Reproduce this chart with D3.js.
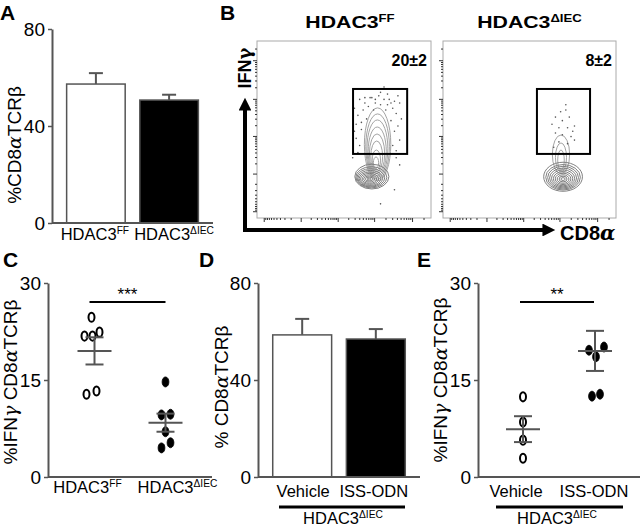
<!DOCTYPE html>
<html><head><meta charset="utf-8">
<script src="https://cdn.jsdelivr.net/npm/d3@7"></script>
<style>body{margin:0;background:#fff}svg{display:block}text{font-family:"Liberation Sans",Arial,sans-serif}</style>
</head><body>
<svg id="c" width="640" height="528"></svg>
<script>
// ---------------- DATA ----------------
// Panel A: %CD8aTCRb bars
const aGroups = ["FF", "dIEC"];
const aMeans = [57.3, 50.7];
const aErr = [4.5, 2.2];
// Panel D: bars
const dGroups = ["Vehicle", "ISS-ODN"];
const dMeans = [58.6, 56.9];
const dErr = [6.6, 4.1];
// Panel C: dot plot
const cGroups = ["FF", "dIEC"];
const cFF = [24.7, 21.8, 21.8, 22.4, 12.8, 13.3];
const cFFjit = [-3, -10, -2, 5, -8, 2];
const cIEC = [14.7, 9.6, 9.7, 7.0, 4.5, 5.3];
const cIECjit = [0, -4, 5, 0, -4, 5];
const cMean = [19.5, 8.4];
const cSem = [2.1, 1.4];
// Panel E: dot plot
const eGroups = ["Vehicle", "ISS-ODN"];
const eVeh = [12.4, 8.5, 5.7, 2.9];
const eVehJit = [0, 0, 0, 0];
const eISS = [19.6, 18.6, 20.1, 12.5, 12.8];
const eISSjit = [-6, 1, 9, -3, 5];
const eMean = [7.4, 19.5];
const eSem = [2.0, 3.1];
// Panel B: flow plots (axis units 0-100)
const flowTitles = ["FF", "dIEC"];
const flowPct = ["20±2", "8±2"];
const gates = [[55.2, 86.3, 36.2, 72.9], [54.3, 85.0, 36.2, 72.9]]; // x0,x1,y0,y1
// blob rings: [cx, cy, rx, ry]
const blob1 = [[64.5,22,1.2,0.5],[64.5,22,2.2,1.1],[64.5,22,3.2,1.7],[64.6,22,4.2,2.4],[64.7,22.1,5.2,3.1],[64.9,22.2,6.2,3.8],[65.1,22.4,7.1,4.5],[65.4,22.7,8.0,5.2],[65.7,23.0,8.9,6.0],[66.0,23.4,9.8,7.0]];
// tail rings: [cx, bottom, top, rx]
const tail1 = [[69.3,21,62.2,7.6],[69.3,22,58.8,6.8],[69.2,23,55.4,6.0],[69.1,24,51.4,5.2],[69.0,25,47.5,4.4],[68.8,26,43.5,3.4],[68.6,27,38.4,2.4],[68.4,28,34.5,1.5]];
const blob2 = [[69.4,22,1.2,0.8],[69.4,22,2.3,1.6],[69.4,22,3.4,2.4],[69.4,22.1,4.5,3.2],[69.4,22.2,5.6,4.0],[69.4,22.4,6.7,4.8],[69.4,22.6,7.8,5.6],[69.4,22.8,8.9,6.4],[69.4,23.0,10.0,7.2],[69.4,23.3,11.2,8.2]];
const tail2 = [[68.2,25,46.9,5.0],[68.2,26,42.4,3.2],[68.2,27,38.4,1.9]];
const dots1x = [59,62,66,70,73,76,79,68,71,75,64,61,78,74,67,58,80,63,77,57,81,60,79,57,82,59,78,58,80,65,71,75,62,81,56,73,82,68,77,60,83,56,80,82,55,71,79];
const dots1y = [67,68,68,69,67,67,66,65,64,64,63,61,62,61,61,58,59,56,55,53,52,50,49,45,44,41,41,37,38,68,71,70,65,69,62,74,65,67,65,54,56,49,34,30,34,8,16];
const dots2x = [68,71,65,69,73,63,67,72,76,65,69,74,67,72,76,64,71,75];
const dots2y = [60,61,57,55,57,53,51,51,52,48,47,46,43,42,44,40,64,49];
// flow axis ticks (channel values, biexponential-like)
const flowTicksMajor = [-1000, 0, 1000, 10000, 100000];
const flowTicksMinor = [-900,-800,-700,-600,-500,-400,-300,-200,-100,100,200,300,400,500,600,700,800,900,2000,3000,4000,5000,6000,7000,8000,9000,20000,30000,40000,50000,60000,70000,80000,90000,200000];
// tick labels
const barTicks = [0, 40, 80];
const dotTicks = [0, 15, 30];

// ---------------- DRAW ----------------
const svg = d3.select("#c");
const axisCol = "#555";

function letter(t, x, y) {
  svg.append("text").attr("x", x).attr("y", y).text(t)
    .attr("font-size", 21).attr("font-weight", "bold");
}
function hdacLabel(g, x, y, sup, fs, anchor, bold, sx) {
  const t = g.append("text").attr("font-size", fs)
    .attr("text-anchor", anchor || "middle").attr("font-weight", bold ? "bold" : null);
  if (sx) t.attr("transform", `translate(${x},${y}) scale(${sx},1)`);
  else t.attr("x", x).attr("y", y);
  t.append("tspan").text("HDAC3");
  t.append("tspan").text(sup).attr("font-size", fs * 0.62).attr("dy", -fs * 0.38);
  return t;
}
function supFor(g) { return g === "FF" ? "FF" : "ΔIEC"; }

function yAxis(g, y, x0, ticks) {
  g.append("g").attr("transform", `translate(${x0},0)`)
    .call(d3.axisLeft(y).tickValues(ticks).tickSize(4).tickSizeOuter(0).tickPadding(3))
    .call(a => {
      a.select(".domain").attr("stroke", axisCol).attr("stroke-width", 2);
      a.selectAll(".tick line").attr("stroke", axisCol).attr("stroke-width", 1.5);
      a.selectAll(".tick text").attr("font-size", 19).attr("fill", "#000")
        .attr("font-family", "Liberation Sans, Arial, sans-serif");
    });
}
function xAxisLine(g, x0, x1, yb) {
  g.append("line").attr("x1", x0).attr("x2", x1).attr("y1", yb).attr("y2", yb)
    .attr("stroke", axisCol).attr("stroke-width", 2);
}
function yTitle(g, cx, cy, parts) {
  const t = g.append("text").attr("transform", `translate(${cx},${cy}) rotate(-90)`)
    .attr("text-anchor", "middle").attr("font-size", 19);
  parts.forEach(p => {
    const s = t.append("tspan").text(p[0]);
    if (p[1]) s.attr("font-family", "DejaVu Serif").attr("font-style", "italic");
  });
}

// ---- Bar panel ----
function barPanel(opts) {
  const g = svg.append("g");
  const y = d3.scaleLinear().domain([0, 80]).range([opts.yb, opts.yt]);
  const x = d3.scaleBand().domain(opts.groups).range([opts.x0, opts.x1]).paddingInner(0.2).paddingOuter(0.2);
  opts.groups.forEach((k, i) => {
    const cx = x(k) + x.bandwidth() / 2;
    g.append("line").attr("x1", cx).attr("x2", cx).attr("y1", y(opts.means[i])).attr("y2", y(opts.means[i] + opts.err[i]))
      .attr("stroke", axisCol).attr("stroke-width", 2);
    g.append("line").attr("x1", cx - 7).attr("x2", cx + 7).attr("y1", y(opts.means[i] + opts.err[i])).attr("y2", y(opts.means[i] + opts.err[i]))
      .attr("stroke", axisCol).attr("stroke-width", 2);
  });
  g.selectAll("rect.bar").data(opts.groups).join("rect")
    .attr("x", k => x(k)).attr("width", x.bandwidth())
    .attr("y", (k, i) => y(opts.means[i])).attr("height", (k, i) => y(0) - y(opts.means[i]))
    .attr("fill", (k, i) => i === 0 ? "#fff" : "#000")
    .attr("stroke", axisCol).attr("stroke-width", 1.5);
  xAxisLine(g, opts.x0, opts.x1, opts.yb);
  yAxis(g, y, opts.x0, barTicks);
  return {g, x, y};
}

function dotPanel(opts) {
  const g = svg.append("g");
  const y = d3.scaleLinear().domain([0, 30]).range([opts.yb, opts.yt]);
  const x = d3.scalePoint().domain(opts.groups).range([opts.x0, opts.x1]).padding(opts.pad);
  xAxisLine(g, opts.x0, opts.x1, opts.yb);
  yAxis(g, y, opts.x0, dotTicks);
  opts.series.forEach((s, i) => {
    const cx = x(opts.groups[i]);
    const filled = i === 1;
    g.selectAll(null).data(s.vals).join("ellipse")
      .attr("cx", (v, j) => cx + s.jit[j]).attr("cy", v => y(v))
      .attr("rx", filled ? 3.4 : 3.0).attr("ry", filled ? 5.0 : 4.6)
      .attr("fill", filled ? "#000" : "#fff").attr("stroke", "#000").attr("stroke-width", filled ? 0.8 : 2);
    const m = opts.mean[i], e = opts.sem[i];
    const ln = (x1, x2, y1, y2) => g.append("line").attr("x1", x1).attr("x2", x2).attr("y1", y1).attr("y2", y2)
      .attr("stroke", axisCol).attr("stroke-width", 2);
    ln(cx - 17, cx + 17, y(m), y(m));
    ln(cx, cx, y(m - e), y(m + e));
    ln(cx - 9, cx + 9, y(m - e), y(m - e));
    ln(cx - 9, cx + 9, y(m + e), y(m + e));
  });
  const sx0 = x(opts.groups[0]) + opts.sig[0], sx1 = x(opts.groups[1]) + opts.sig[1];
  g.append("line").attr("x1", sx0).attr("x2", sx1).attr("y1", opts.sigY).attr("y2", opts.sigY)
    .attr("stroke", "#000").attr("stroke-width", 2);
  g.append("text").attr("x", (sx0 + sx1) / 2).attr("y", opts.sigY - 2).attr("text-anchor", "middle")
    .attr("font-size", 17).text(opts.stars);
  return {g, x, y};
}

// ===== Panel A =====
letter("A", 0, 20);
const A = barPanel({groups: aGroups, means: aMeans, err: aErr, x0: 52, x1: 213, yb: 223, yt: 29});
aGroups.forEach((k, i) => hdacLabel(A.g, A.x(k) + A.x.bandwidth() / 2 + (i ? 5 : -1), 240, supFor(k), 16.5));
yTitle(A.g, 21, 145, [["%CD8"], ["α", 1], ["TCRβ"]]);

// ===== Panel D =====
letter("D", 199, 267);
const D = barPanel({groups: dGroups, means: dMeans, err: dErr, x0: 258, x1: 420, yb: 477, yt: 283});
dGroups.forEach((k, i) => D.g.append("text").attr("x", D.x(k) + D.x.bandwidth() / 2 + (i ? -2 : 1)).attr("y", 497)
  .attr("text-anchor", "middle").attr("font-size", 16.5).text(k));
D.g.append("line").attr("x1", 279).attr("x2", 405).attr("y1", 507).attr("y2", 507).attr("stroke", "#000").attr("stroke-width", 3);
hdacLabel(D.g, 343, 524, "ΔIEC", 16.5);
yTitle(D.g, 228, 387, [["% CD8"], ["α", 1], ["TCRβ"]]);

// ===== Panel C =====
letter("C", 3, 267);
const C = dotPanel({groups: cGroups, x0: 48, x1: 212, yb: 477, yt: 283, pad: 0.655,
  series: [{vals: cFF, jit: cFFjit}, {vals: cIEC, jit: cIECjit}], mean: cMean, sem: cSem,
  sig: [-5, 0], sigY: 302, stars: "***"});
cGroups.forEach((k, i) => hdacLabel(C.g, C.x(k) + (i ? 12 : -7), 493, supFor(k), 16.5));
yTitle(C.g, 17, 382, [["%IFN"], ["γ", 1], [" CD8"], ["α", 1], ["TCRβ"]]);

// ===== Panel E =====
letter("E", 417, 267);
const E = dotPanel({groups: eGroups, x0: 478, x1: 640, yb: 477, yt: 283, pad: 0.625,
  series: [{vals: eVeh, jit: eVehJit}, {vals: eISS, jit: eISSjit}], mean: eMean, sem: eSem,
  sig: [-3, -1], sigY: 302, stars: "**"});
eGroups.forEach((k, i) => E.g.append("text").attr("x", E.x(k) + (i ? -1 : -7)).attr("y", 497)
  .attr("text-anchor", "middle").attr("font-size", 16.5).text(k));
E.g.append("line").attr("x1", 496).attr("x2", 623).attr("y1", 507).attr("y2", 507).attr("stroke", "#000").attr("stroke-width", 3);
hdacLabel(E.g, 557, 524, "ΔIEC", 16.5);
yTitle(E.g, 447, 380, [["%IFN"], ["γ", 1], [" CD8"], ["α", 1], ["TCRβ"]]);

// ===== Panel B =====
letter("B", 220, 20);
const frames = [[257, 431], [443, 616]];
const fyT = 41, fyB = 218;
frames.forEach((fr, p) => {
  const g = svg.append("g");
  const x = d3.scaleLinear().domain([0, 100]).range(fr);
  const y = d3.scaleLinear().domain([0, 100]).range([fyB, fyT]);
  const tx = d3.scaleSymlog().constant(120).domain([-1200, 262144]).range([fr[0] + 4, fr[1] - 3]);
  const ty = d3.scaleSymlog().constant(120).domain([-1200, 262144]).range([fyB - 4, fyT + 3]);
  g.append("rect").attr("x", fr[0]).attr("y", fyT).attr("width", fr[1] - fr[0]).attr("height", fyB - fyT)
    .attr("fill", "#fff").attr("stroke", "#aaa").attr("stroke-width", 1);
  const tk = (axis, tr, vals, size) => g.append("g").attr("transform", tr)
    .call(axis.tickValues(vals).tickSize(size).tickFormat("").tickSizeOuter(0))
    .call(a => { a.select(".domain").remove(); a.selectAll("line").attr("stroke", "#333"); });
  tk(d3.axisBottom(tx), `translate(0,${fyB})`, flowTicksMinor, 2);
  tk(d3.axisBottom(tx), `translate(0,${fyB})`, flowTicksMajor, 4);
  tk(d3.axisLeft(ty), `translate(${fr[0]},0)`, flowTicksMinor, 2);
  tk(d3.axisLeft(ty), `translate(${fr[0]},0)`, flowTicksMajor, 4);

  const blob = p === 0 ? blob1 : blob2, tail = p === 0 ? tail1 : tail2;
  const dx = p === 0 ? dots1x : dots2x, dy = p === 0 ? dots1y : dots2y;
  g.selectAll(null).data(tail).join("ellipse")
    .attr("cx", d => x(d[0])).attr("cy", d => y((d[1] + d[2]) / 2))
    .attr("rx", d => x(d[3]) - x(0)).attr("ry", d => y(0) - y((d[2] - d[1]) / 2))
    .attr("fill", "none").attr("stroke", "#999").attr("stroke-width", 0.9);
  g.selectAll(null).data(blob).join("ellipse")
    .attr("cx", d => x(d[0])).attr("cy", d => y(d[1]))
    .attr("rx", d => x(d[2]) - x(0)).attr("ry", d => y(0) - y(d[3]))
    .attr("fill", "none").attr("stroke", "#808080").attr("stroke-width", 1);
  g.selectAll(null).data(dx).join("circle")
    .attr("cx", d => x(d)).attr("cy", (d, i) => y(dy[i])).attr("r", 0.8).attr("fill", "#555");
  const gt = gates[p];
  g.append("rect").attr("x", x(gt[0])).attr("y", y(gt[3])).attr("width", x(gt[1]) - x(gt[0])).attr("height", y(gt[2]) - y(gt[3]))
    .attr("fill", "none").attr("stroke", "#000").attr("stroke-width", 2);
  g.append("text").attr("x", fr[1] - 4).attr("y", 66).attr("text-anchor", "end")
    .attr("font-size", 16).attr("font-weight", "bold").text(flowPct[p]);
  hdacLabel(g, (fr[0] + fr[1]) / 2 + (p ? 0 : 6), 28, supFor(flowTitles[p]), 17, "middle", true, 1.25);
});
// axis arrows
svg.append("defs").append("marker").attr("id", "ah").attr("viewBox", "0 0 10 10").attr("refX", 2).attr("refY", 5)
  .attr("markerWidth", 3.6).attr("markerHeight", 3.2).attr("orient", "auto")
  .append("path").attr("d", "M0,0L10,5L0,10Z").attr("fill", "#000");
svg.append("line").attr("x1", 245).attr("y1", 232).attr("x2", 245).attr("y2", 108)
  .attr("stroke", "#000").attr("stroke-width", 4).attr("marker-end", "url(#ah)");
svg.append("line").attr("x1", 243).attr("y1", 230).attr("x2", 545).attr("y2", 230)
  .attr("stroke", "#000").attr("stroke-width", 4).attr("marker-end", "url(#ah)");
const ifn = svg.append("text").attr("transform", "translate(251,68) rotate(-90)").attr("text-anchor", "middle")
  .attr("font-size", 18).attr("font-weight", "bold");
ifn.append("tspan").text("IFN");
ifn.append("tspan").text("γ").attr("font-family", "DejaVu Serif");
const cd8 = svg.append("text").attr("x", 560).attr("y", 240).attr("font-size", 20).attr("font-weight", "bold");
cd8.append("tspan").text("CD8");
cd8.append("tspan").text("α").attr("font-family", "DejaVu Serif").attr("font-style", "italic");
</script>
</body></html>
